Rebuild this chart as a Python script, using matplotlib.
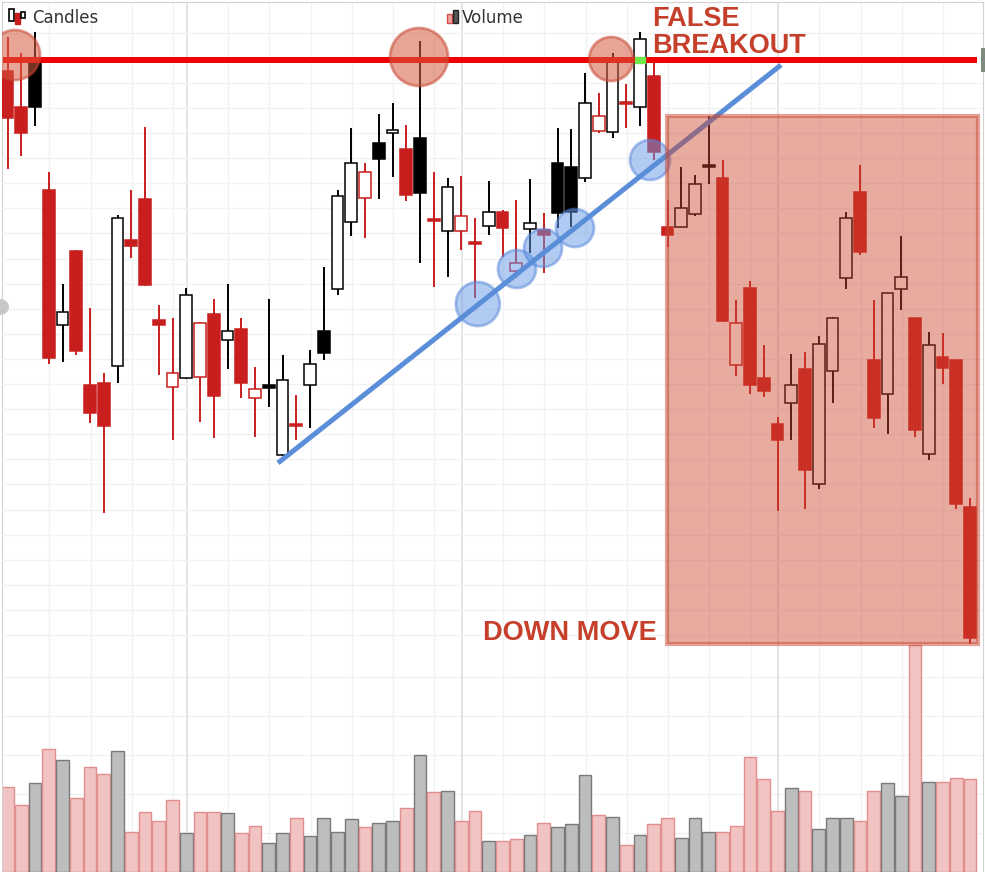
import numpy as np
import matplotlib as mpl
mpl.use('Agg')
import matplotlib.pyplot as plt
from matplotlib.patches import Rectangle, Circle

W, H = 985, 872

# OHLC (arbitrary price units) for the 71 candles
opens = [629, 593, 638, 510, 375, 449, 315, 317, 334, 460,
         501, 380, 313, 322, 323, 386, 360, 371, 302, 315,
         245, 276, 315, 369, 411, 478, 502, 557, 567, 551,
         562, 481, 469, 469, 458, 474, 488, 429, 471, 470,
         537, 533, 522, 569, 568, 598, 593, 624, 473, 473,
         486, 535, 522, 335, 412, 322, 276, 297, 331, 216,
         329, 422, 508, 340, 306, 411, 382, 246, 343, 340,
         193]
highs = [663, 647, 668, 528, 416, 450, 392, 327, 485, 510,
         573, 395, 382, 412, 378, 401, 416, 382, 333, 401,
         345, 305, 350, 433, 510, 572, 537, 586, 597, 575,
         659, 528, 522, 524, 482, 519, 490, 500, 521, 487,
         572, 571, 627, 607, 647, 616, 668, 638, 500, 533,
         525, 584, 540, 400, 419, 355, 283, 346, 348, 364,
         383, 488, 535, 400, 407, 464, 382, 368, 367, 340,
         202]
lows = [531, 544, 574, 336, 338, 345, 277, 187, 317, 442,
        414, 325, 260, 321, 278, 262, 331, 302, 263, 293,
        244, 260, 272, 340, 405, 464, 462, 501, 523, 499,
        437, 413, 423, 450, 402, 465, 443, 422, 447, 427,
        472, 473, 518, 567, 562, 572, 574, 540, 453, 473,
        484, 516, 378, 324, 306, 303, 189, 260, 191, 211,
        297, 411, 445, 272, 266, 390, 263, 240, 316, 191,
        56]
closes = [582, 567, 593, 342, 388, 349, 287, 274, 482, 454,
          415, 375, 327, 405, 377, 304, 369, 317, 311, 312,
          320, 274, 336, 347, 504, 537, 528, 541, 570, 505,
          507, 479, 513, 484, 456, 488, 472, 437, 477, 465,
          487, 488, 597, 584, 638, 596, 661, 548, 465, 492,
          516, 533, 379, 377, 315, 309, 260, 315, 230, 356,
          382, 482, 448, 282, 407, 423, 270, 355, 332, 196,
          62]
prev_close = 600  # close of the bar before the window

volume = [85, 67, 89, 123, 112, 74, 105, 98, 121, 40,
          60, 51, 72, 39, 60, 60, 59, 39, 46, 29,
          39, 54, 36, 54, 40, 53, 45, 49, 51, 64,
          117, 80, 81, 51, 61, 31, 31, 33, 37, 49,
          45, 48, 97, 57, 55, 27, 37, 48, 54, 34,
          54, 40, 40, 46, 115, 93, 61, 84, 81, 43,
          54, 54, 51, 81, 89, 76, 227, 90, 90, 94,
          93]

# drawn-on annotations
resistance = 640
res_touch_x = [0.55, 29.93, 43.9]
res_touch_y = [645, 643, 641]
breakout_idx = 46
trend_x = [19.67, 56.25]
trend_y = [237, 635]
trend_touch_x = [34.2, 37.05, 38.95, 41.27, 46.73]
trend_touch_y = [396, 431, 452, 472, 540]
move_box_x = [47.96, 70.58]
move_box_y = [56, 584]

# chart grid
vgrid = [3, 6, 9, 12, 16, 19, 22, 25, 28, 31, 36, 39, 42, 45, 48, 51, 54, 59, 62, 65, 68]
vgrid_major = [13, 33, 56]

o = np.array(opens)
c = np.array(closes)
x = np.arange(len(o))
prev = np.concatenate([[prev_close], c[:-1]])
red = '#c81e1e'
cols = np.where(c >= prev, 'black', red)
hollow = c > o

fig = plt.figure(figsize=(W / 100, H / 100), dpi=100)
pos = [2 / W, 0, 981 / W, 870 / H]
xlim = (-0.4, 70.945)
gridcol = '#f2f2f2'

# volume panel (behind)
axv = fig.add_axes(pos)
axv.set_xlim(xlim)
axv.set_ylim(0, 870)
vfill = np.where(c >= prev, '#bdbdbd', '#f2c3c3')
vedge = np.where(c >= prev, '#7a7a7a', '#e08e8e')
axv.bar(x, volume, width=0.94, color=vfill, edgecolor=vedge, linewidth=1.0, zorder=2)
axv.set_xticks(np.array(vgrid) + 0.05)
axv.set_yticks([39, 78, 117, 156, 195])
axv.grid(color=gridcol, lw=1.0)
axv.set_axisbelow(True)
axv.vlines(np.array(vgrid_major) + 0.05, 0, 870, color='#dcdcdc', lw=1.1, zorder=0.6)
axv.tick_params(length=0, labelleft=False, labelbottom=False)
for s in ['left', 'top', 'right']:
    axv.spines[s].set_color('#d2d2d2')
axv.spines['bottom'].set_visible(False)

# price panel
ax = fig.add_axes(pos)
ax.patch.set_visible(False)
ax.set_xlim(xlim)
ax.set_ylim(-172, 698)
ax.set_xticks([])
ax.set_yticks(np.arange(65, 690, 25.1))
ax.grid(axis='y', color=gridcol, lw=1.0)
ax.set_axisbelow(True)
ax.tick_params(length=0, labelleft=False, labelbottom=False)
for s in ax.spines.values():
    s.set_visible(False)

ax.vlines(x, lows, highs, colors=cols, linewidth=1.4, zorder=2)
ax.bar(x, np.abs(c - o), bottom=np.minimum(o, c), width=0.84,
       color=np.where(hollow, 'white', cols), edgecolor=cols, linewidth=1.1, zorder=3)

# resistance line and touches
ax.hlines(resistance, -0.33, 70.5, color='#f00000', lw=4.3, zorder=5)
ax.add_patch(Rectangle((breakout_idx - 0.36, resistance - 3), 0.72, 6,
                       color='#6fe84a', zorder=5.5))
res_r = np.array([25, 29, 22])
ax.scatter(res_touch_x, res_touch_y, s=(2 * res_r * 0.72) ** 2,
           facecolor=(0.84, 0.36, 0.25, 0.55), edgecolor=(0.78, 0.28, 0.20, 0.55),
           linewidth=2.0, zorder=6)

# trend line and touches
trend_r = np.array([22, 19, 19, 19, 20])
ax.scatter(trend_touch_x, trend_touch_y, s=(2 * trend_r * 0.72) ** 2,
           facecolor=(0.40, 0.60, 0.90, 0.5), edgecolor=(0.33, 0.52, 0.86, 0.5),
           linewidth=2.0, zorder=6)
ax.plot(trend_x, trend_y, color='#5a8ed8', lw=3.6, solid_capstyle='butt', zorder=7)

# down-move box
ax.add_patch(Rectangle((move_box_x[0], move_box_y[0]), move_box_x[1] - move_box_x[0],
                       move_box_y[1] - move_box_y[0],
                       facecolor=(0.80, 0.27, 0.18, 0.45), edgecolor=(0.78, 0.28, 0.20, 0.5),
                       lw=3.0, zorder=8))

tcol = '#c53f2a'
tkw = dict(color=tcol, fontsize=19.5, fontweight='bold', family='Liberation Sans', zorder=9)
ax.text(46.87, 674, 'FALSE', ha='left', va='baseline', **tkw)
ax.text(46.87, 647, 'BREAKOUT', ha='left', va='baseline', **tkw)
ax.text(47.24, 60, 'DOWN MOVE', ha='right', va='baseline', **tkw)


# legend strip and small UI bits (figure pixel coordinates)
def fig_rect(px, py, pw, ph, **kw):
    fig.add_artist(Rectangle((px / W, 1 - (py + ph) / H), pw / W, ph / H,
                             transform=fig.transFigure, **kw))


fig_rect(8.5, 9, 5, 12, facecolor='white', edgecolor='black', lw=1.2)
fig_rect(14.5, 13, 5, 11, facecolor=red, edgecolor=red, lw=1.0)
fig_rect(20.5, 12, 4, 6, facecolor='white', edgecolor='black', lw=1.2)
fig.text(32 / W, 1 - 18 / H, 'Candles', fontsize=12, color='#333333', va='center', ha='left')

fig_rect(447, 14, 5, 9, facecolor='#f2a0a0', edgecolor='#d05050', lw=1.0)
fig_rect(452.5, 10, 5, 13, facecolor='#555555', edgecolor='#222222', lw=1.0)
fig.text(462 / W, 1 - 18 / H, 'Volume', fontsize=12, color='#333333', va='center', ha='left')

fig.add_artist(Circle((0, 1 - 307 / H), 9 / W, transform=fig.transFigure,
                      facecolor='#c8c8c8', edgecolor='none'))
fig_rect(981, 48, 4, 24, facecolor='#7f8a7f', edgecolor='none')

fig.savefig('out.png', dpi=100)
